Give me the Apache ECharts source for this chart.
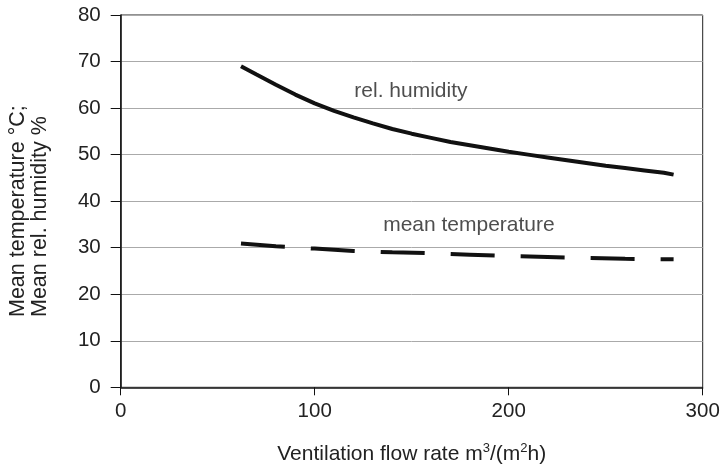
<!DOCTYPE html>
<html>
<head>
<meta charset="utf-8">
<script src="https://cdn.jsdelivr.net/npm/echarts@6/dist/echarts.min.js"></script>
<style>
  html, body { margin: 0; padding: 0; background: #fff; }
  #chart { width: 723px; height: 465px; }
</style>
</head>
<body>
<div id="chart"></div>
<script>
// flow rate (x) and values
var humidityFlow = [62, 70, 80, 90, 100, 110, 120, 130, 140, 150, 160, 170, 180, 190, 200, 210, 220, 230, 240, 250, 260, 270, 280, 285];
var humidity     = [69.0, 67.2, 65.0, 62.9, 61.0, 59.4, 58.0, 56.7, 55.5, 54.5, 53.6, 52.7, 52.0, 51.3, 50.6, 50.0, 49.4, 48.8, 48.2, 47.6, 47.1, 46.6, 46.1, 45.7];
var tempFlow     = [62, 80, 100, 120, 140, 160, 180, 200, 220, 240, 260, 285];
var temperature  = [30.9, 30.3, 29.8, 29.3, 29.0, 28.8, 28.5, 28.2, 28.0, 27.8, 27.6, 27.5];

// curve labels [x, y, text]
var curveLabels = [
  [149.6, 63.7, 'rel. humidity'],
  [179.5, 34.9, 'mean temperature']
];

var yTitle = ['Mean temperature °C;', 'Mean rel. humidity %'];

function pairs(xs, ys) {
  var out = [];
  for (var i = 0; i < xs.length; i++) out.push([xs[i], ys[i]]);
  return out;
}

var FONT = 'Liberation Sans';
var TXT = '#222';
var chart = echarts.init(document.getElementById('chart'));

chart.setOption({
  animation: false,
  textStyle: { fontFamily: FONT },
  grid: {
    left: 120.7, right: 20.3, top: 15, bottom: 77.7,
    outerBoundsMode: 'none', containLabel: false,
    show: true, borderColor: '#222', borderWidth: 1
  },
  // y title: two lines, left aligned, reading bottom-up
  graphic: [{
    type: 'text', x: 29, y: 317, rotation: Math.PI / 2, silent: true,
    style: {
      text: yTitle.join('\n'), align: 'left', verticalAlign: 'middle',
      lineHeight: 22, fontSize: 21.5, fontFamily: FONT, fill: TXT
    }
  }],
  xAxis: {
    type: 'value', min: 0, max: 300, interval: 100,
    name: 'Ventilation flow rate m{sup|3}/(m{sup|2}h)',
    nameLocation: 'middle', nameGap: 55,
    nameTextStyle: {
      fontSize: 21, color: TXT, fontFamily: FONT,
      rich: { sup: { fontSize: 13, color: TXT, fontFamily: FONT, padding: [0, 0, 10, 0] } }
    },
    axisLine: { show: true, lineStyle: { color: '#111', width: 1.5 } },
    axisTick: { show: true, length: 8, lineStyle: { color: '#111' } },
    axisLabel: { fontSize: 20.5, color: TXT, margin: 14, fontFamily: FONT },
    splitLine: { show: false }
  },
  yAxis: {
    type: 'value', min: 0, max: 80, interval: 10,
    axisLine: { show: true, lineStyle: { color: '#111', width: 1.5 } },
    axisTick: { show: true, length: 10, lineStyle: { color: '#111' } },
    axisLabel: { fontSize: 20.5, color: TXT, margin: 20, fontFamily: FONT },
    splitLine: { show: true, lineStyle: { color: '#aaa', width: 1 } }
  },
  series: [
    {
      name: 'rel. humidity', type: 'line', data: pairs(humidityFlow, humidity),
      showSymbol: false, lineStyle: { color: '#111', width: 4 }
    },
    {
      name: 'mean temperature', type: 'line', data: pairs(tempFlow, temperature),
      showSymbol: false,
      lineStyle: { color: '#111', width: 4, type: [44, 26], cap: 'butt' }
    },
    {
      type: 'scatter', symbolSize: 0, silent: true,
      data: curveLabels.map(function (l) { return { value: [l[0], l[1]], name: l[2] }; }),
      label: {
        show: true, position: 'inside', formatter: '{b}',
        fontSize: 21, color: TXT, fontFamily: FONT
      }
    }
  ]
});
</script>
</body>
</html>
